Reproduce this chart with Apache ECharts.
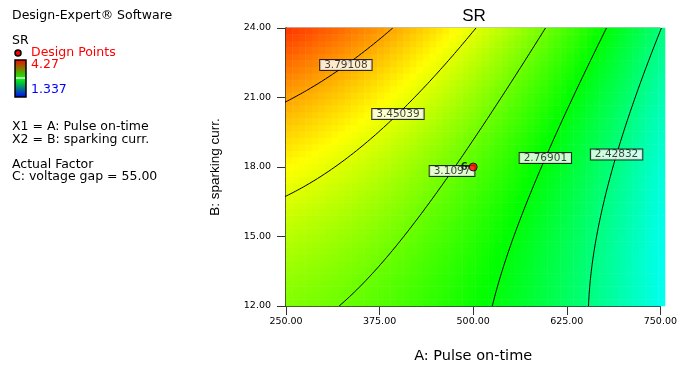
<!DOCTYPE html>
<html>
<head>
<meta charset="utf-8">
<script src="https://cdn.jsdelivr.net/npm/echarts@6/dist/echarts.min.js"></script>
<style>
  html, body { margin: 0; padding: 0; background: #fff; }
  #chart { width: 680px; height: 371px; }
</style>
</head>
<body>
<div id="chart"></div>
<script>
// Factor ranges in actual units
const pulseRange = [250, 750];      // A: Pulse on-time
const currentRange = [12, 24];      // B: sparking curr.
const xTickStep = 125;
const yTickStep = 3;

// Quadratic response-surface model for SR in coded units (a, b in [-1, 1])
const modelTerms = ['1', 'A', 'B', 'AB', 'A^2', 'B^2'];
const modelCoef = [3.044, -0.6865, 0.319, -0.1565, -0.185, 0.10];

// Colour scale limits (observed SR range)
const responseRange = [1.337, 4.27];

// Contour levels and the text printed on each
const contourLevels = [3.79108, 3.45039, 3.10970, 2.76901, 2.42832];
const contourText = ['3.79108', '3.45039', '3.1097', '2.76901', '2.42832'];
const labelAtCurrent = [22.40, 20.29, 17.83, 18.39, 18.54];

// Design points (A, B) and replicate count
const designPoints = [[500, 18]];
const designReplicates = [6];

const gridCols = 58, gridRows = 43;

const aMid = (pulseRange[0] + pulseRange[1]) / 2, aHalf = (pulseRange[1] - pulseRange[0]) / 2;
const bMid = (currentRange[0] + currentRange[1]) / 2, bHalf = (currentRange[1] - currentRange[0]) / 2;

function predictSR(A, B) {
  const a = (A - aMid) / aHalf, b = (B - bMid) / bHalf;
  const x = [1, a, b, a * b, a * a, b * b];
  let s = 0;
  for (let k = 0; k < modelCoef.length; k++) s += modelCoef[k] * x[k];
  return s;
}

// SR falls steadily with pulse on-time, so each contour is found by bisection on A
function solvePulse(level, B) {
  let lo = 100, hi = 900;
  if (predictSR(lo, B) < level || predictSR(hi, B) > level) return null;
  for (let it = 0; it < 60; it++) {
    const mid = (lo + hi) / 2;
    if (predictSR(mid, B) > level) lo = mid; else hi = mid;
  }
  return (lo + hi) / 2;
}

// Heatmap cells
const xCats = [], yCats = [], heat = [];
for (let i = 0; i < gridCols; i++) {
  xCats.push((pulseRange[0] + (i + 0.5) * (pulseRange[1] - pulseRange[0]) / gridCols).toFixed(2));
}
for (let j = 0; j < gridRows; j++) {
  yCats.push((currentRange[0] + (j + 0.5) * (currentRange[1] - currentRange[0]) / gridRows).toFixed(3));
}
for (let i = 0; i < gridCols; i++) {
  for (let j = 0; j < gridRows; j++) {
    heat.push([i, j, predictSR(+xCats[i], +yCats[j])]);
  }
}

// Contour polylines
const contourSeries = contourLevels.map(function (lv) {
  const pts = [];
  for (let k = 0; k <= 240; k++) {
    const B = currentRange[0] + k * (currentRange[1] - currentRange[0]) / 240;
    const A = solvePulse(lv, B);
    if (A !== null) pts.push([A, B]);
  }
  return {
    type: 'line', xAxisIndex: 1, yAxisIndex: 1, data: pts,
    showSymbol: false, symbol: 'none', clip: true, z: 3, silent: true,
    lineStyle: { color: '#000', width: 1 }
  };
});

const labelData = contourLevels.map(function (lv, k) {
  return { value: [solvePulse(lv, labelAtCurrent[k]), labelAtCurrent[k]], name: contourText[k] };
});

const font = 'DejaVu Sans';
const txt = function (x, y, s, color, size) {
  return { type: 'text', x: x, y: y, silent: true,
    style: { text: s, fill: color || '#000', font: (size || 12.5) + 'px "' + font + '"',
      textAlign: 'left', textVerticalAlign: 'middle' } };
};

const chart = echarts.init(document.getElementById('chart'), null, { renderer: 'canvas' });
chart.setOption({
  animation: false,
  backgroundColor: '#fff',
  grid: [
    { left: 286, top: 28, width: 379, height: 278, show: false },
    { left: 286, top: 28, width: 379, height: 278, show: true, borderColor: '#7a7a7a', borderWidth: 1, backgroundColor: 'transparent' }
  ],
  xAxis: [
    { type: 'category', gridIndex: 0, data: xCats, show: false },
    { type: 'value', gridIndex: 1, min: pulseRange[0], max: pulseRange[1], interval: xTickStep,
      name: 'A: Pulse on-time', nameLocation: 'middle', nameGap: 43,
      nameTextStyle: { fontFamily: font, fontSize: 14.5, color: '#000' },
      axisLine: { lineStyle: { color: '#000', width: 1.5 } },
      axisTick: { length: 9, lineStyle: { color: '#333' } },
      axisLabel: { margin: 11, fontFamily: font, fontSize: 9.5, color: '#000', formatter: v => v.toFixed(2) },
      splitLine: { show: false } }
  ],
  yAxis: [
    { type: 'category', gridIndex: 0, data: yCats, show: false },
    { type: 'value', gridIndex: 1, min: currentRange[0], max: currentRange[1], interval: yTickStep,
      name: 'B: sparking curr.', nameLocation: 'middle', nameGap: 64,
      nameTextStyle: { fontFamily: 'Liberation Sans', fontSize: 13.5, color: '#000' },
      axisLine: { lineStyle: { color: '#000', width: 1.5 } },
      axisTick: { length: 9, lineStyle: { color: '#333' } },
      axisLabel: { margin: 15, fontFamily: font, fontSize: 9.5, color: '#000', formatter: v => v.toFixed(2) },
      splitLine: { show: false } }
  ],
  visualMap: {
    type: 'continuous', show: false, seriesIndex: 0,
    min: responseRange[0], max: responseRange[1],
    inRange: { color: ['#0000ff', '#00ffff', '#00ff00', '#ffff00', '#ff0000'] }
  },
  series: [
    { type: 'heatmap', xAxisIndex: 0, yAxisIndex: 0, data: heat, silent: true, z: 1,
      itemStyle: { borderWidth: 0 }, progressive: 0 }
  ].concat(contourSeries).concat([
    { type: 'scatter', xAxisIndex: 1, yAxisIndex: 1, data: labelData, symbolSize: 0, z: 5, silent: true,
      label: { show: true, position: 'inside', formatter: p => p.name,
        fontFamily: font, fontSize: 10.5, color: '#111', lineHeight: 10,
        backgroundColor: '#fff', borderColor: '#000', borderWidth: 1, padding: [0, 4, 0, 4] } },
    { type: 'scatter', xAxisIndex: 1, yAxisIndex: 1, data: designPoints, symbol: 'circle', symbolSize: 8, z: 8, silent: true,
      itemStyle: { color: '#ff0000', borderColor: '#000', borderWidth: 1 },
      label: { show: true, position: 'left', distance: 1, formatter: p => String(designReplicates[p.dataIndex]),
        fontFamily: font, fontSize: 10, fontWeight: 'bold', color: '#000' } }
  ]),
  graphic: [
    { type: 'text', x: 474, y: 16, silent: true,
      style: { text: 'SR', fill: '#000', font: '17px "Liberation Sans"', textAlign: 'center', textVerticalAlign: 'middle' } },
    txt(12, 16, 'Design-Expert\u00ae Software'),
    txt(12, 41, 'SR'),
    { type: 'circle', shape: { cx: 18, cy: 53, r: 3 }, silent: true, style: { fill: '#ff0000', stroke: '#000', lineWidth: 1.5 } },
    txt(31, 53, 'Design Points', '#ff0000'),
    { type: 'rect', shape: { x: 15, y: 60, width: 11, height: 37 }, silent: true,
      style: { stroke: '#000', lineWidth: 1.5,
        fill: new echarts.graphic.LinearGradient(0, 0, 0, 1, [
          { offset: 0, color: '#ff0000' }, { offset: 0.5, color: '#00ff00' }, { offset: 1, color: '#0000ff' }]) } },
    { type: 'line', shape: { x1: 16, y1: 78, x2: 25, y2: 78 }, silent: true, style: { stroke: '#fff', lineWidth: 1.5 } },
    txt(31, 65, responseRange[1].toFixed(2), '#ff0000'),
    txt(31, 90, String(responseRange[0]), '#0000ff'),
    txt(12, 127, 'X1 = A: Pulse on-time'),
    txt(12, 140, 'X2 = B: sparking curr.'),
    txt(12, 165, 'Actual Factor'),
    txt(12, 177, 'C: voltage gap = 55.00')
  ]
});
</script>
</body>
</html>
